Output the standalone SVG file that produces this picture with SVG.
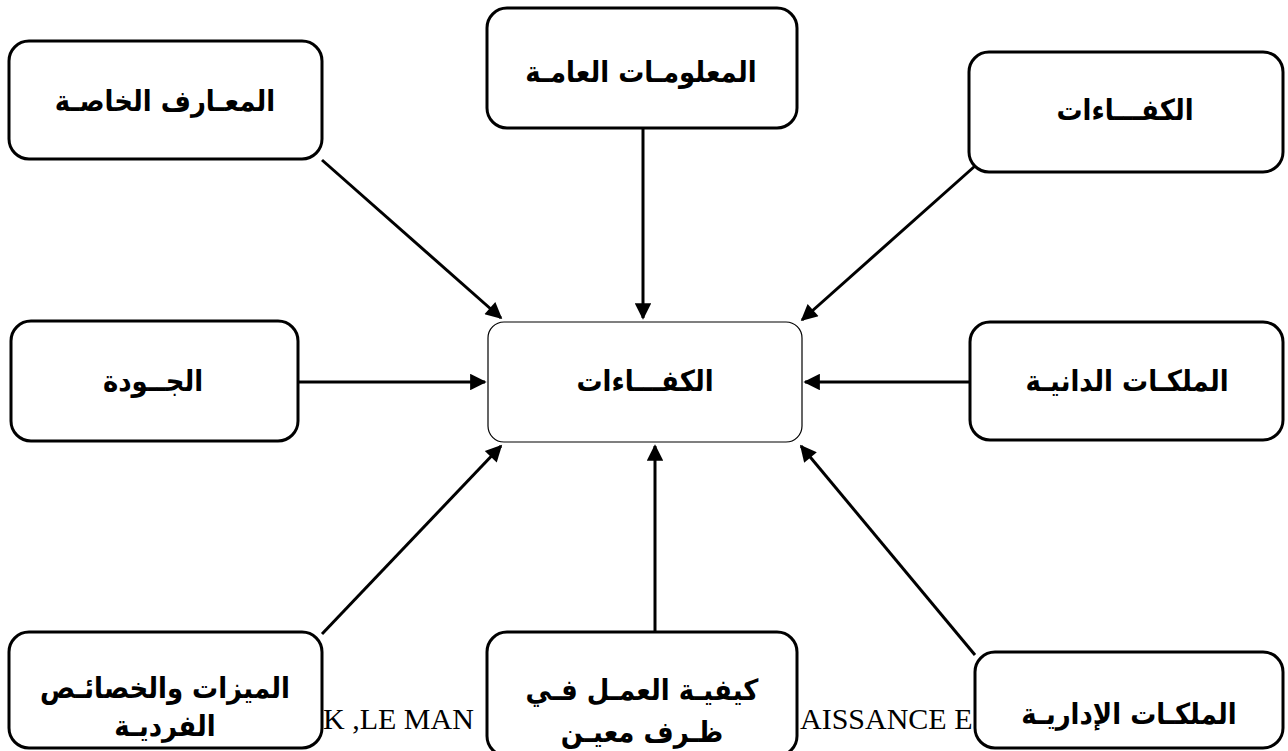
<svg xmlns="http://www.w3.org/2000/svg" width="1288" height="751" viewBox="0 0 1288 751">
  <style>
    .box { fill: #fff; stroke: #000; stroke-width: 3; }
    .core { fill: #fff; stroke: #000; stroke-width: 1.2; }
    .lbl { font-family: "DejaVu Sans", "Noto Sans", sans-serif; font-weight: bold; font-size: 26px; fill: #000; text-anchor: middle; direction: rtl; dominant-baseline: middle; }
    .note { font-family: "Liberation Serif", serif; font-size: 30px; fill: #000; }
    .wire { stroke: #000; stroke-width: 3; fill: none; marker-end: url(#head); }
  </style>
  <defs>
    <marker id="head" viewBox="0 0 10 10" refX="9" refY="5" markerWidth="6.5" markerHeight="5.5" markerUnits="strokeWidth" orient="auto">
      <path d="M0,0 L10,5 L0,10 z" fill="#000"/>
    </marker>
  </defs>
  <rect width="1288" height="751" fill="#fff"/>

  <!-- reference line partly covered by the bottom boxes -->
  <text class="note" x="323" y="729">K ,LE MAN</text>
  <text class="note" x="800" y="729">AISSANCE E</text>

  <g id="connectors">
    <line class="wire" x1="322" y1="160" x2="501" y2="318"/>
    <line class="wire" x1="643" y1="128" x2="643" y2="318"/>
    <line class="wire" x1="975" y1="166" x2="802" y2="320"/>
    <line class="wire" x1="297" y1="382" x2="485" y2="382"/>
    <line class="wire" x1="970" y1="382" x2="805" y2="382"/>
    <line class="wire" x1="322" y1="634" x2="501" y2="446"/>
    <line class="wire" x1="655" y1="632" x2="655" y2="446"/>
    <line class="wire" x1="975" y1="655" x2="801" y2="446"/>
  </g>

  <g id="core">
    <rect class="core" x="488" y="322" width="314" height="120" rx="16"/>
    <text class="lbl" transform="translate(645,383) scale(1,1.12)">الكفـــاءات</text>
  </g>

  <g id="special-knowledge">
    <rect class="box" x="9" y="41" width="313" height="118" rx="20"/>
    <text class="lbl" transform="translate(165,103) scale(1,1.12)">المعـارف الخاصـة</text>
  </g>
  <g id="general-info">
    <rect class="box" x="487" y="8" width="310" height="120" rx="20"/>
    <text class="lbl" transform="translate(641,74) scale(1,1.12)">المعلومـات العامـة</text>
  </g>
  <g id="competences">
    <rect class="box" x="969" y="52" width="314" height="120" rx="20"/>
    <text class="lbl" transform="translate(1125,112) scale(1,1.12)">الكفـــاءات</text>
  </g>
  <g id="quality">
    <rect class="box" x="11" y="321" width="287" height="120" rx="20"/>
    <text class="lbl" transform="translate(153,383) scale(1,1.12)">الجــودة</text>
  </g>
  <g id="personal-faculties">
    <rect class="box" x="970" y="322" width="313" height="118" rx="20"/>
    <text class="lbl" transform="translate(1127,383) scale(1,1.12)">الملكـات الدانيـة</text>
  </g>
  <g id="individual-traits">
    <rect class="box" x="9" y="632" width="313" height="116" rx="20"/>
    <text class="lbl" transform="translate(165,690) scale(1,1.12)">الميزات والخصائـص</text>
    <text class="lbl" transform="translate(165,728) scale(1,1.12)">الفرديـة</text>
  </g>
  <g id="know-how">
    <rect class="box" x="487" y="632" width="310" height="124" rx="20"/>
    <text class="lbl" transform="translate(642,692) scale(1,1.12)">كيفيـة العمـل فـي</text>
    <text class="lbl" transform="translate(642,734) scale(1,1.12)">ظـرف معيـن</text>
  </g>
  <g id="managerial-faculties">
    <rect class="box" x="975" y="652" width="308" height="96" rx="20"/>
    <text class="lbl" transform="translate(1129,716) scale(1,1.12)">الملكـات الإداريـة</text>
  </g>
</svg>
